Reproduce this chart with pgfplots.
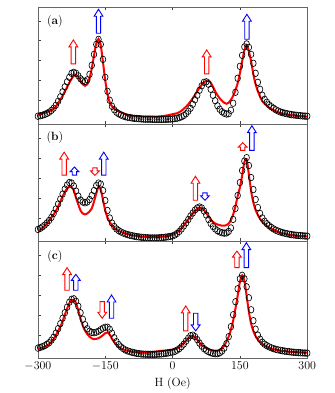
\documentclass[border=0pt]{standalone}
\usepackage{pgfplots}
\pgfplotsset{compat=1.18}
\usepackage{pgfplotstable}

% columns: H (Oe), k = measured (circles), r = fit (red line); y in arbitrary units
\pgfplotstableread{
H k r
-300 8 9.5
-295 8.5 10
-290 9 10.6
-285 9.8 11.3
-280 10.8 12
-275 12 12.8
-270 13.8 14
-265 16 15.5
-260 19 17.5
-255 23 21
-250 27.5 24.5
-245 32.5 28.5
-240 37.5 33
-235 42.5 37
-230 47 41.5
-225 51 45.5
-220 52 48.5
-215 51 49.5
-210 48.5 47.5
-205 45.5 43.5
-200 43.5 40
-195 43 38.5
-190 44.5 40
-185 50 46
-180 59 56
-175 70 69
-170 80 81
-165 85 85.5
-160 80 79
-155 65 62
-150 47 44
-145 33 30
-140 24 22
-135 18 18
-130 14.5 15.5
-125 12 14
-120 10.5 12.8
-115 9.2 12
-110 8.3 11
-105 7.5 10
-100 7 9
-95 6.6 8.6
-90 6.2 8.3
-85 5.9 8.1
-80 5.7 8
-75 5.5 7.8
-70 5.3 7.7
-65 5.1 7.6
-60 5 7.5
-55 5 7.5
-50 5 7.5
-45 4.9 7.5
-40 4.8 7.5
-35 4.8 7.6
-30 4.8 7.8
-25 4.8 8
-20 4.8 8.3
-15 4.9 8.6
-10 5 9
-5 5.1 9.5
0 5.3 10
5 5.6 10.5
10 6 11
15 6.6 12
20 7.5 13.5
25 8.7 15.5
30 10.5 17.5
35 13 20
40 16 23
45 20 26
50 24.5 29.5
55 29 33
60 34 36.5
65 38.5 39.5
70 42 42
75 42.5 43.5
80 40 44
85 35 41.5
90 29 37.5
95 23.5 33
100 18.5 29
105 15 26
110 12.5 23.5
115 11 21.5
120 10.2 20.5
125 10.5 21.5
130 14 24.5
135 21 28.5
140 32 34
145 46 41
150 58 51
155 69 63
160 77.5 74
165 80.5 79.5
170 77 73
175 70 63
180 61 50
185 51 40
190 42 33
195 35 27.5
200 29 23
205 25 20.5
210 22 18.5
215 19.5 16.5
220 17.5 15.3
225 16 14.1
230 14.5 13
235 13.3 12
240 12.3 11.2
245 11.6 10.6
250 11 10
255 10.5 9.6
260 10 9.2
265 9.6 8.9
270 9.3 8.6
275 9 8.4
280 8.8 8.2
285 8.5 8
290 8.3 7.8
295 8.1 7.6
300 8 7.5
}\dataa

\pgfplotstableread{
H k r
-300 12 11
-295 13 12
-290 14.5 13.5
-285 16.3 15.5
-280 18.5 18
-275 21 21
-270 24 24
-265 28 27
-260 32.5 30.5
-255 37.5 35
-250 42.5 40
-245 47.5 45
-240 52.5 49.5
-235 56.5 53
-230 59 55
-225 58.5 54.5
-220 55.5 51
-215 50.5 43.5
-210 45.5 37
-205 41.5 31
-200 39.5 28
-195 38.7 27
-190 39.5 28
-185 42 30
-180 46 33
-175 51 40
-170 56 48
-165 58.5 54.5
-160 57.5 52
-155 51 41.5
-150 41 31
-145 31 24
-140 23.5 19.5
-135 18.5 16
-130 15 13.5
-125 12.5 11.8
-120 10.8 10.5
-115 9.5 9.5
-110 8.4 8.6
-105 7.5 7.8
-100 6.8 7.2
-95 6.2 6.7
-90 5.7 6.3
-85 5.2 5.9
-80 4.8 5.5
-75 4.5 5.2
-70 4.2 5
-65 4 4.8
-60 3.8 4.7
-55 3.6 4.6
-50 3.5 4.5
-45 3.5 4.5
-40 3.5 4.5
-35 3.5 4.5
-30 3.6 4.6
-25 3.8 4.8
-20 4 5
-15 4.3 5.3
-10 4.6 5.6
-5 5 6
0 5.5 6.5
5 6.5 7.5
10 8 9
15 10 11
20 12.5 13.3
25 15.5 16
30 18.5 19
35 22 22
40 25.5 25
45 28.5 28
50 31.5 30.5
55 33.5 32.7
60 34.5 34
65 33.5 33.5
70 30.5 31.5
75 26.5 28.5
80 22 25
85 18 22
90 15 19.5
95 12.5 18
100 10.7 17
105 9.5 16.3
110 8.7 15.8
115 8.3 15.7
120 8.5 16.3
125 10 18
130 13.5 21.5
135 22 27
140 33 35
145 46 45.3
150 59 54
155 71 66
160 80.5 79.5
165 84 82.5
170 76 67
175 64 50.5
180 52 39
185 42 31.5
190 34 26.5
195 28 22.5
200 23.5 19.5
205 20.3 17.3
210 17.8 15.5
215 15.8 14
220 14 12.8
225 12.5 11.6
230 11.3 10.5
235 10.3 9.6
240 9.5 8.8
245 8.8 8.1
250 8.2 7.5
255 7.7 7
260 7.2 6.5
265 6.8 6.1
270 6.5 5.8
275 6.2 5.6
280 6 5.4
285 5.8 5.2
290 5.6 5.1
295 5.4 5
300 5.3 5
}\datab

\pgfplotstableread{
H k r
-300 10.5 9.5
-295 11.2 10.2
-290 12 11
-285 13 12
-280 14.3 13.2
-275 16 14.5
-270 18.5 16.5
-265 21.5 19.5
-260 25.5 23
-255 30 27.5
-250 35 32
-245 40.5 37.5
-240 46 44
-235 51.5 50
-230 56.5 55.5
-225 59.5 59
-220 60 59
-215 57.5 55.5
-210 52.5 48
-205 46 40
-200 39.5 33
-195 34 28
-190 30 24.5
-185 27.5 22
-180 26.3 20.3
-175 26 19.5
-170 26.5 19.8
-165 27.5 20.5
-160 29 21.8
-155 30.5 23.5
-150 31.5 25.5
-145 31.5 26.2
-140 29.5 24
-135 25.5 20
-130 21 16.5
-125 17 13.8
-120 14 11.8
-115 11.8 10.3
-110 10 9.2
-105 8.7 8.5
-100 7.7 7.8
-95 7 7.4
-90 6.3 7
-85 5.8 6.6
-80 5.3 6.2
-75 5 6.1
-70 4.7 6
-65 4.5 6
-60 4.4 6
-55 4.3 6.1
-50 4.3 6.2
-45 4.3 6.5
-40 4.3 6.8
-35 4.4 7.2
-30 4.5 7.6
-25 4.7 7.8
-20 5 8
-15 5.3 8.2
-10 5.7 8.5
-5 6.1 8.7
0 6.5 9
5 7.3 9.3
10 8.5 10
15 10 11.5
20 12 13.5
25 14.5 15.5
30 17.5 18
35 20.5 20.5
40 23 22.3
45 23.5 22.8
50 22 21.5
55 19 19
60 15.5 16
65 12.5 13.5
70 10 12
75 8.3 10.5
80 7 9.5
85 6 8.7
90 5.3 8.2
95 5 8
100 5 8
105 5.8 8.8
110 7.5 10.3
115 10.5 13
120 15 17
125 22 22
130 32 29
135 44 38
140 57 50
145 70 63
150 80 77
155 83.5 83.5
160 80 78
165 72 63
170 61 47
175 49 35
180 38 27.5
185 29.5 22.5
190 23.5 19
195 19.5 16.5
200 16.5 14.8
205 14.5 13.3
210 13 12
215 11.8 11
220 10.8 10
225 10 9.4
230 9.3 8.8
235 8.8 8.4
240 8.3 8
245 7.9 7.7
250 7.5 7.4
255 7.2 7.2
260 6.9 7
265 6.6 6.8
270 6.4 6.7
275 6.2 6.5
280 6 6.4
285 5.9 6.3
290 5.7 6.2
295 5.6 6.1
300 5.5 6
}\datac

\pgfplotsset{
  panel/.style={
    width=270pt, height=117.5pt, scale only axis,
    xmin=-300, xmax=300, ymin=0, ymax=117.5,
    xtick={-300,-150,0,150,300},
    ytick={23.7,43.7,63.7,83.7,103.7}, yticklabels={},
    xtick pos=both, ytick pos=left, tick align=inside,
    major tick length=3pt,
    axis line style={black!60},
    tick style={black!75, line width=0.5pt},
    ticklabel style={font=\large},
  },
  meas/.style={only marks, mark=o, mark size=3.3pt,
    mark options={black, line width=0.65pt, xscale=0.85}},
  fitline/.style={red, line width=2pt, smooth, no marks},
}

% open block arrow: colour, anchor (tail centre), length, head length, direction (1 up, -1 down)
\newcommand{\arr}[5]{%
  \draw[#1, line width=0.9pt, fill=white, line join=miter, shift={(#2)}, yscale=#5]
    (-2.2pt,0pt) -- (-2.2pt,#3pt-#4pt) -- (-4.4pt,#3pt-#4pt) -- (0pt,#3pt)
    -- (4.4pt,#3pt-#4pt) -- (2.2pt,#3pt-#4pt) -- (2.2pt,0pt) -- cycle;}

\begin{document}
\begin{tikzpicture}
\begin{axis}[panel, name=a, at={(0,0)}, anchor=north west, xticklabels={}]
  \addplot[meas] table[x=H, y=k] {\dataa};
  \addplot[fitline] table[x=H, y=r] {\dataa};
  \node[font=\large] at (rel axis cs:0.063,0.88) {(\textbf{a})};
  \coordinate (a1) at (axis cs:-221,60.5);
  \coordinate (a2) at (axis cs:-165,91.2);
  \coordinate (a3) at (axis cs:76,50.5);
  \coordinate (a4) at (axis cs:165.6,85.2);
\end{axis}

\begin{axis}[panel, name=b, at={(a.south west)}, anchor=north west, xticklabels={}]
  \addplot[meas] table[x=H, y=k] {\datab};
  \addplot[fitline] table[x=H, y=r] {\datab};
  \node[font=\large] at (rel axis cs:0.063,0.885) {(\textbf{b})};
  \node[font=\large, rotate=90] at (rel axis cs:-0.025,0.5) {$P$ (a.u.)};
  \coordinate (b1) at (axis cs:-241.5,66.5);
  \coordinate (b2) at (axis cs:-218.5,66.5);
  \coordinate (b3) at (axis cs:-173,73.7);
  \coordinate (b4) at (axis cs:-153.3,66.5);
  \coordinate (b5) at (axis cs:51,41.3);
  \coordinate (b6) at (axis cs:72.2,48.7);
  \coordinate (b7) at (axis cs:156.3,91.3);
  \coordinate (b8) at (axis cs:176.7,91.3);
\end{axis}

\begin{axis}[panel, name=c, at={(b.south west)}, anchor=north west,
    xlabel={H~(Oe)}, xlabel style={font=\large}]
  \addplot[meas] table[x=H, y=k] {\datac};
  \addplot[fitline] table[x=H, y=r] {\datac};
  \node[font=\large] at (rel axis cs:0.063,0.872) {(\textbf{c})};
  \coordinate (c1) at (axis cs:-235,68.5);
  \coordinate (c2) at (axis cs:-215.5,68.5);
  \coordinate (c3) at (axis cs:-156.7,57.2);
  \coordinate (c4) at (axis cs:-136,40.5);
  \coordinate (c5) at (axis cs:29.3,27.8);
  \coordinate (c6) at (axis cs:51.5,45.5);
  \coordinate (c7) at (axis cs:143.3,91.2);
  \coordinate (c8) at (axis cs:164.4,91.2);
\end{axis}

\arr{red}{a1}{24}{7}{1}
\arr{blue}{a2}{24}{7}{1}
\arr{red}{a3}{24}{7}{1}
\arr{blue}{a4}{25}{7}{1}

\arr{red}{b1}{23}{7}{1}
\arr{blue}{b2}{8}{4.5}{1}
\arr{red}{b3}{7.5}{4.5}{-1}
\arr{blue}{b4}{23}{7}{1}
\arr{red}{b5}{24}{7}{1}
\arr{blue}{b6}{7.4}{4.5}{-1}
\arr{red}{b7}{7.7}{4.5}{1}
\arr{blue}{b8}{24.7}{7}{1}

\arr{red}{c1}{22.7}{7}{1}
\arr{blue}{c2}{16}{6}{1}
\arr{red}{c3}{16.7}{6}{-1}
\arr{blue}{c4}{23.3}{7}{1}
\arr{red}{c5}{25}{7}{1}
\arr{blue}{c6}{17.7}{6}{-1}
\arr{red}{c7}{16.6}{6}{1}
\arr{blue}{c8}{25}{7}{1}

\path[use as bounding box] ([xshift=-38pt,yshift=-33.5pt]c.south west)
  rectangle ([xshift=27pt,yshift=7pt]a.north east);
\end{tikzpicture}
\end{document}
